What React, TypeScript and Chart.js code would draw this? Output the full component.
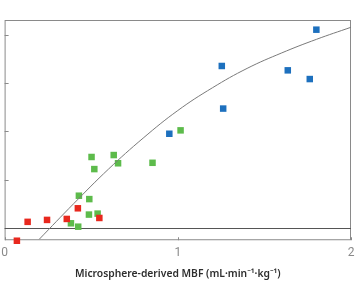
import React, { useEffect, useRef } from "react";
import { Chart, registerables } from "chart.js";

Chart.register(...registerables);

// Flow readings (x: microsphere-derived MBF, y: estimated MBF)
const redX = [0.071, 0.133, 0.245, 0.359, 0.423, 0.547];
const redY = [-0.26, 0.13, 0.17, 0.19, 0.41, 0.21];

const greenX = [0.383, 0.425, 0.429, 0.487, 0.489, 0.502, 0.518, 0.537, 0.63, 0.655, 0.854, 1.016];
const greenY = [0.1, 0.03, 0.67, 0.28, 0.6, 1.47, 1.22, 0.3, 1.51, 1.34, 1.35, 2.02];

const blueX = [0.951, 1.254, 1.262, 1.635, 1.762, 1.8];
const blueY = [1.95, 3.35, 2.47, 3.26, 3.08, 4.1];

// Fitted trend curve
const fitX = [0.2, 0.4, 0.6, 0.8, 1.0, 1.2, 1.4, 1.6, 1.8, 2.0];
const fitY = [-0.23, 0.51, 1.22, 1.86, 2.43, 2.9, 3.3, 3.62, 3.9, 4.15];

const xTicks = [0, 1, 2];
const yTicks = [1, 2, 3, 4];

const zip = (xs: number[], ys: number[]) => xs.map((x, i) => ({ x, y: ys[i] }));

const framePlugin = {
  id: "frame",
  beforeDatasetsDraw(chart: any) {
    const { ctx, chartArea, scales } = chart;
    const { left, right, top, bottom } = chartArea;
    ctx.save();
    ctx.strokeStyle = "#8a8a8a";
    ctx.lineWidth = 1;
    ctx.strokeRect(left + 0.5, top + 0.5, right - left - 1, bottom - top - 1);
    // inner y tick marks
    yTicks.forEach((v) => {
      const py = Math.round(scales.y.getPixelForValue(v)) + 0.5;
      ctx.beginPath();
      ctx.moveTo(left, py);
      ctx.lineTo(left + 4, py);
      ctx.stroke();
    });
    // inner x tick marks
    xTicks.forEach((v) => {
      const px = Math.round(scales.x.getPixelForValue(v)) + 0.5;
      ctx.beginPath();
      ctx.moveTo(px, bottom);
      ctx.lineTo(px, bottom - 3);
      ctx.stroke();
    });
    // zero line
    const y0 = Math.round(scales.y.getPixelForValue(0)) + 0.5;
    ctx.strokeStyle = "#555";
    ctx.beginPath();
    ctx.moveTo(left, y0);
    ctx.lineTo(right, y0);
    ctx.stroke();
    ctx.restore();
  },
};

export default function App() {
  const ref = useRef<HTMLCanvasElement | null>(null);

  useEffect(() => {
    if (!ref.current) return;
    const pt = { pointStyle: "rect" as const, pointRadius: 4.6, pointBorderWidth: 0, clip: false as any };
    const chart = new Chart(ref.current, {
      type: "scatter",
      data: {
        datasets: [
          {
            type: "line" as any,
            data: zip(fitX, fitY),
            borderColor: "#7a7a7a",
            borderWidth: 1,
            pointRadius: 0,
            tension: 0.4,
            fill: false,
          } as any,
          { data: zip(redX, redY), backgroundColor: "#e8281e", ...pt },
          { data: zip(greenX, greenY), backgroundColor: "#5dbb4b", ...pt },
          { data: zip(blueX, blueY), backgroundColor: "#1d70be", ...pt },
        ],
      },
      options: {
        animation: false,
        responsive: true,
        maintainAspectRatio: false,
        layout: { padding: { left: -1, right: 6, top: 20, bottom: 13 } },
        plugins: { legend: { display: false }, tooltip: { enabled: false } },
        scales: {
          x: {
            type: "linear",
            min: 0,
            max: 2,
            afterBuildTicks: (s: any) => {
              s.ticks = xTicks.map((v) => ({ value: v }));
            },
            grid: { display: false },
            border: { display: false },
            ticks: {
              color: "#8a8a8a",
              font: { family: "Roboto", size: 12 },
              padding: -2,
              maxRotation: 0,
            },
            title: {
              display: true,
              text: "Microsphere-derived MBF (mL·min⁻¹·kg⁻¹)",
              color: "#2e2e2e",
              font: { family: "Noto Sans", size: 10.3, weight: 600 as any },
              padding: { top: 9, bottom: 0 },
            },
          },
          y: { type: "linear", min: -0.25, max: 4.3, display: false },
        },
      },
      plugins: [framePlugin],
    });
    return () => chart.destroy();
  }, []);

  return (
    <div style={{ position: "fixed", left: 0, top: 0, width: 357, height: 293, background: "#fff" }}>
      <canvas ref={ref} />
    </div>
  );
}
